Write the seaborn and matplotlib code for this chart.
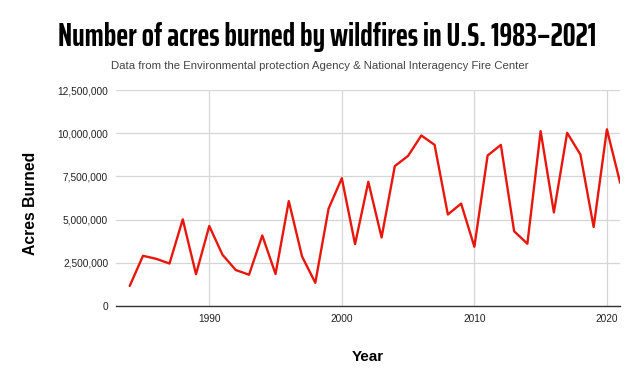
import matplotlib
matplotlib.use("Agg")
import matplotlib.pyplot as plt
import matplotlib.ticker as mticker
from matplotlib import font_manager as fm
import seaborn as sns
import pandas as pd

years = list(range(1984, 2022))
acres = [1148409, 2896147, 2719162, 2447296, 5009290, 1827310, 4621621, 2953578,
         2069929, 1797574, 4073579, 1840546, 6065998, 2856959, 1329704, 5626093,
         7393493, 3570911, 7184712, 3960842, 8097880, 8689389, 9873745, 9328045,
         5292468, 5921786, 3422724, 8711367, 9326238, 4319546, 3595613, 10125149,
         5409995, 10026086, 8767492, 4564266, 10230000, 7125643]
x_ticks = [1990, 2000, 2010, 2020]
y_ticks = [0, 2500000, 5000000, 7500000, 10000000, 12500000]

title = "Number of acres burned by wildfires in U.S. 1983\u20132021"
subtitle = "Data from the Environmental protection Agency & National Interagency Fire Center"

df = pd.DataFrame({"Year": years, "Acres": acres})

sns.set_theme(style="white")
plt.rcParams['font.family'] = ['Liberation Sans', 'DejaVu Sans']

fig = plt.figure(figsize=(6.4, 3.87), dpi=100)

# choose a bold condensed face whose width is closest to an Arial-Narrow-like width
cands = []
for f in fm.fontManager.ttflist:
    st = str(f.stretch).lower()
    isc = ("condensed" in st or "narrow" in f.name.lower() or "condensed" in f.name.lower()
           or (isinstance(f.stretch, int) and f.stretch < 500))
    isb = f.weight in ("bold", 700, "700")
    if isc and isb:
        cands.append(f.fname)
best = None
bestd = None
for fn in cands:
    try:
        tt = fig.text(0, 0, title, fontproperties=fm.FontProperties(fname=fn, size=19))
        fig.canvas.draw()
        w = tt.get_window_extent().width
        tt.remove()
        d = abs(w - 425)
        if bestd is None or d < bestd:
            best, bestd = fn, d
    except Exception:
        pass

ax = fig.add_axes([0.182, 0.21, 0.787, 0.557])

sns.lineplot(data=df, x="Year", y="Acres", ax=ax, color="#e8160c", linewidth=1.7)

ax.set_xlim(1983, 2021)
ax.set_ylim(0, 12500000)
ax.set_xticks(x_ticks)
ax.set_yticks(y_ticks)
ax.yaxis.set_major_formatter(mticker.FuncFormatter(lambda v, p: f"{int(v):,}"))
ax.grid(True, color="#d6d6d6", linewidth=0.9)
ax.set_axisbelow(True)
for s in ["top", "right", "left"]:
    ax.spines[s].set_visible(False)
ax.spines["bottom"].set_color("#333333")
ax.spines["bottom"].set_linewidth(1.0)
ax.tick_params(axis="both", length=0, labelsize=7.3, colors="#222222", pad=6)
ax.set_xlabel("")
ax.set_ylabel("")

if best is not None:
    t = fig.text(0.512, 0.905, title, fontproperties=fm.FontProperties(fname=best),
                 ha="center", va="center", color="black")
else:
    t = fig.text(0.512, 0.905, title, fontweight="bold", ha="center", va="center", color="black")
t.set_fontsize(19)
fig.canvas.draw()
w = t.get_window_extent().width
t.set_fontsize(19 * 540.0 / w)

fig.text(0.5, 0.83, subtitle, ha="center", va="center", fontsize=8.2, color="#444444")
fig.text(0.575, 0.077, "Year", ha="center", va="center", fontsize=11, fontweight="bold",
         color="black")
fig.text(0.048, 0.474, "Acres Burned", ha="center", va="center", rotation=90, fontsize=11.3,
         fontweight="bold", color="black")

fig.savefig("out.png", dpi=100)
